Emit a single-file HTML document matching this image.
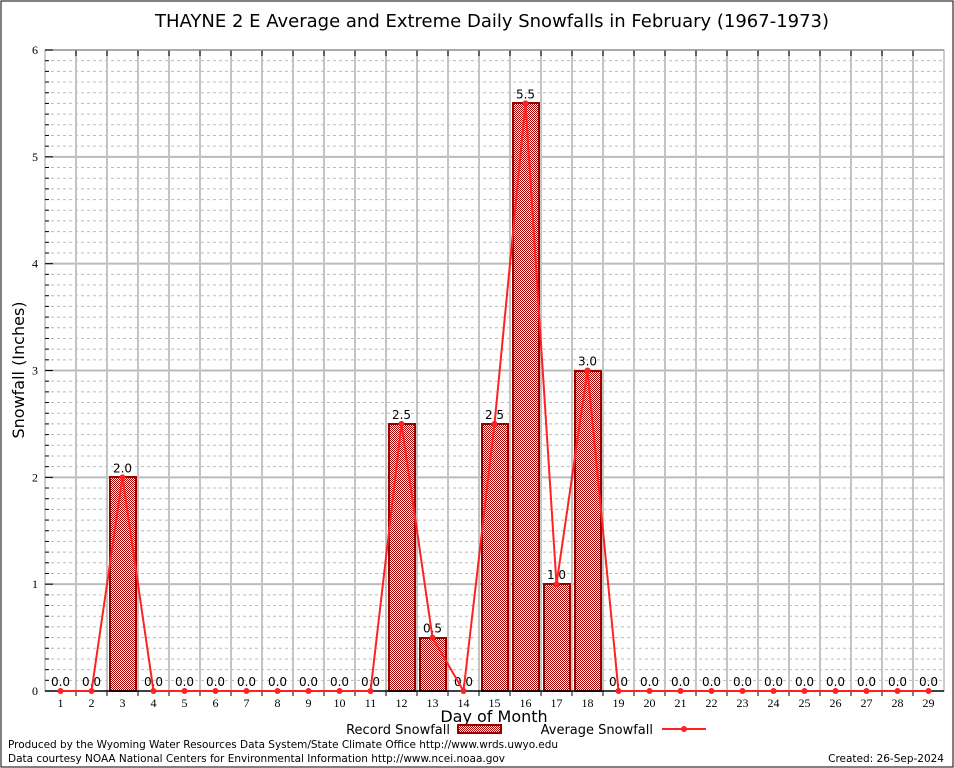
<!DOCTYPE html>
<html><head><meta charset="utf-8"><style>
body{margin:0;background:#fff}
svg{display:block;font-family:"DejaVu Sans","Liberation Sans",sans-serif}
</style></head><body>
<svg id="c" width="954" height="768" viewBox="0 0 954 768">
<defs>
<pattern id="hatch" x="0" y="0" width="2" height="2" patternUnits="userSpaceOnUse">
<rect width="2" height="2" fill="#fff"/>
<rect width="1" height="1" fill="#a00"/><rect x="1" y="1" width="1" height="1" fill="#a00"/>
</pattern>
</defs>
<rect x="1" y="1" width="952" height="766" fill="#fff" stroke="#000"/>
<text x="492" y="27" font-size="18" text-anchor="middle">THAYNE 2 E Average and Extreme Daily Snowfalls in February (1967-1973)</text>
<g id="grid"></g>
<g id="bars"></g>
<g id="line"></g>
<g id="axes"></g>
<text x="24" y="370" font-size="16" text-anchor="middle" transform="rotate(-90 24 370)">Snowfall (Inches)</text>
<text x="494" y="722" font-size="16" text-anchor="middle">Day of Month</text>
<g>
<text x="450" y="734" font-size="13" text-anchor="end">Record Snowfall</text>
<rect x="458" y="725" width="43" height="8" fill="url(#hatch)" stroke="#900" stroke-width="2"/>
<text x="653" y="734" font-size="13" text-anchor="end">Average Snowfall</text>
<line x1="662" y1="729" x2="706" y2="729" stroke="#f22" stroke-width="2"/>
<circle cx="684" cy="729" r="3" fill="#f22"/>
</g>
<text x="8" y="748" font-size="10.5" textLength="550">Produced by the Wyoming Water Resources Data System/State Climate Office http://www.wrds.uwyo.edu</text>
<text x="8" y="762" font-size="10.5" textLength="497">Data courtesy NOAA National Centers for Environmental Information http://www.ncei.noaa.gov</text>
<text x="944" y="762" font-size="10.5" text-anchor="end">Created: 26-Sep-2024</text>
</svg>
<script>
const days=[1,2,3,4,5,6,7,8,9,10,11,12,13,14,15,16,17,18,19,20,21,22,23,24,25,26,27,28,29];
const recordVals=[0,0,2,0,0,0,0,0,0,0,0,2.5,0.5,0,2.5,5.5,1,3,0,0,0,0,0,0,0,0,0,0,0];
const averageVals=[0,0,2,0,0,0,0,0,0,0,0,2.5,0.5,0,2.5,5.5,1,3,0,0,0,0,0,0,0,0,0,0,0];
const yTicks=[0,1,2,3,4,5,6];
const L=45,R=944,T=50,B=691,YMAX=6;
const step=(R-L)/days.length;
const xs=d=>L+step*(d-0.5);
const ys=v=>B-(v/YMAX)*(B-T);
const NS="http://www.w3.org/2000/svg";
function mk(p,t,a){const e=document.createElementNS(NS,t);for(const k in a)e.setAttribute(k,a[k]);p.appendChild(e);return e;}
const grid=document.getElementById('grid'),bars=document.getElementById('bars'),line=document.getElementById('line'),axes=document.getElementById('axes');
for(let v=0;v<=YMAX*10;v++){
 const y=ys(v/10);
 if(v%10!==0){const g=mk(grid,'line',{x1:L,x2:R,y1:y,y2:y,stroke:'#bbb','stroke-dasharray':'3,3'});
 
 }
 else if(v>0){const g=mk(grid,'line',{x1:L,x2:R,y1:y,y2:y,stroke:'#bbb','stroke-width':2});
 
 }
}
for(let i=1;i<days.length;i++){const x=L+step*i;
 const g=mk(grid,'line',{x1:x,x2:x,y1:T,y2:B,stroke:'#c4c4c4','stroke-width':2});
 
 
 const t=mk(axes,'line',{x1:x,x2:x,y1:T,y2:T+6,stroke:'#000'});
 
 
 const tb=mk(axes,'line',{x1:x,x2:x,y1:B,y2:B+5,stroke:'#000'});
 
 }
const fr=mk(axes,'rect',{x:L,y:T,width:R-L,height:B-T,fill:'none',stroke:'#999'});


const xa=mk(axes,'line',{x1:L,x2:R,y1:B,y2:B,stroke:'#000','stroke-width':1.5});


yTicks.forEach(v=>{const y=ys(v);
 const t=mk(axes,'text',{x:L-7,y:y+4,'font-size':12,'text-anchor':'end','font-family':'Liberation Serif,serif'});t.textContent=v;
 
 
 const tk=mk(axes,'line',{x1:L,x2:L+8,y1:y,y2:y,stroke:'#000'});
 
 });
for(let v=1;v<YMAX*10;v++){if(v%10){const y=ys(v/10);const tk=mk(axes,'line',{x1:L,x2:L+4,y1:y,y2:y,stroke:'#000'});
 
 }}
days.forEach((d,i)=>{const t=mk(axes,'text',{x:xs(d),y:B+16,'font-size':12,'text-anchor':'middle','font-family':'Liberation Serif,serif'});t.textContent=d;
 
 
 const v=recordVals[i];
 if(v>0){const b=mk(bars,'rect',{x:Math.round(xs(d)-13),y:Math.round(ys(v)),width:26,height:B-Math.round(ys(v)),fill:'url(#hatch)',stroke:'#900','stroke-width':2});
 
 }
 const lb=mk(line,'text',{x:xs(d),y:ys(v)-5,'font-size':12,'text-anchor':'middle'});lb.textContent=v.toFixed(1);
 
 });
const pl=mk(line,'polyline',{points:days.map((d,i)=>xs(d)+','+ys(averageVals[i])).join(' '),fill:'none',stroke:'#f22','stroke-width':2});


days.forEach((d,i)=>{const c=mk(line,'circle',{cx:xs(d),cy:ys(averageVals[i]),r:3,fill:'#f22'});
 
 });
line.parentNode.appendChild(line);
</script>
</body></html>
